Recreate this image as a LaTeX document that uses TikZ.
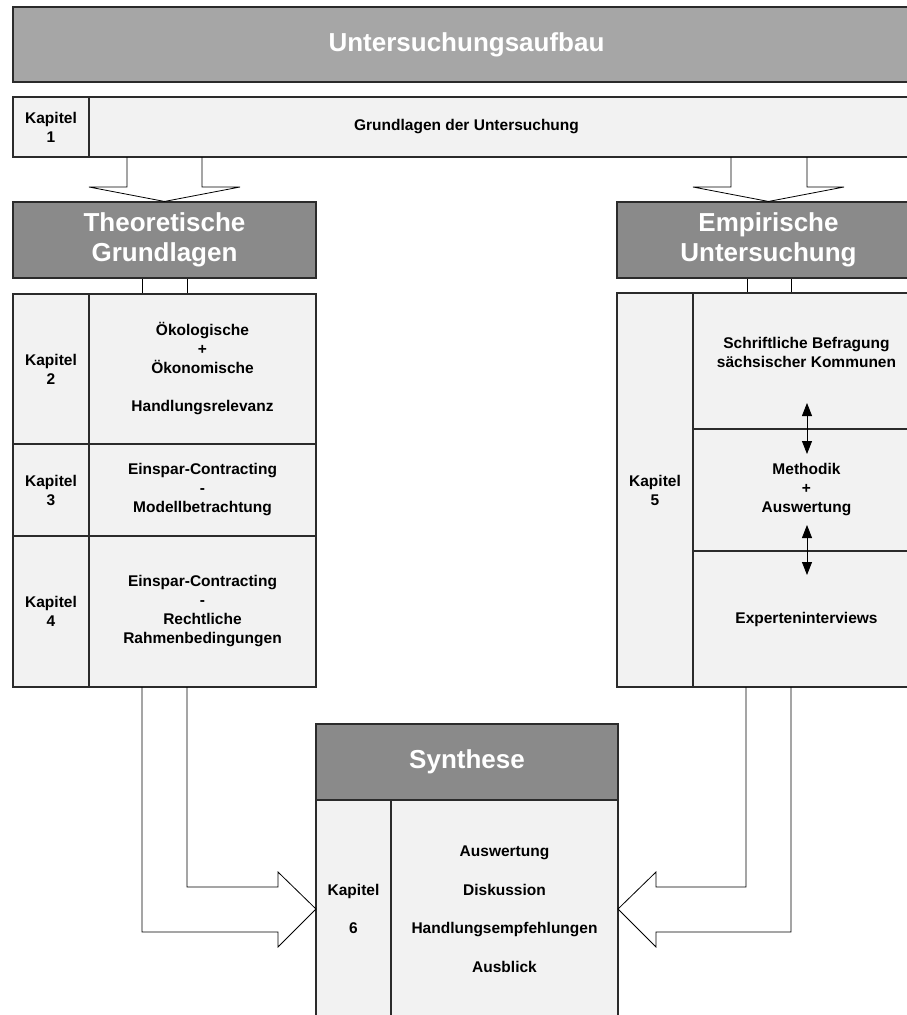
\documentclass[tikz,border=0pt]{standalone}
\usepackage{fontspec}
\setmainfont{Liberation Sans}
\usetikzlibrary{arrows.meta}

\definecolor{hdrlight}{HTML}{A6A6A6}
\definecolor{hdrdark}{HTML}{8A8A8A}
\definecolor{cellfill}{HTML}{F2F2F2}
\definecolor{edge}{HTML}{2B2B2B}

\tikzset{
  celltext/.style={inner sep=0pt, align=center, font=\fontsize{15.5}{19}\selectfont\bfseries},
  cell/.style={celltext, draw=edge, line width=1.1pt, fill=cellfill},
  bighead/.style={cell, fill=hdrlight, text=white, font=\fontsize{26}{30}\selectfont\bfseries},
  subhead/.style={bighead, fill=hdrdark},
  blockarrow/.style={draw=black, line width=0.8pt, line join=miter},
  link/.style={draw=black, line width=0.8pt},
  twoway/.style={line width=0.8pt, {Triangle[length=13pt,width=10pt]}-{Triangle[length=13pt,width=10pt]}},
}

\begin{document}
\begin{tikzpicture}[x=1pt, y=-1pt]
\useasboundingbox (0,0) rectangle (907,1015);
\clip (0,0) rectangle (907,1015);

% short links between the column headers and their chapter blocks
\draw[link] (142,278) -- (142,294) (187,278) -- (187,294);
\draw[link] (747,278) -- (747,293) (791,278) -- (791,293);

% title and chapter 1
\node[bighead, minimum width=907pt, minimum height=75pt] (title) at (466.5,44.5) {Untersuchungsaufbau};
\node[cell, minimum width=76pt, minimum height=60pt] (k1) at (51,127) {Kapitel\\1};
\node[cell, minimum width=831pt, minimum height=60pt] (g1) at (504.5,127) {};
\node[celltext] (g1text) at (466.5,127) {Grundlagen der Untersuchung};

% column headers
\node[subhead, minimum width=303pt, minimum height=76pt] (theo) at (164.5,240) {Theoretische\\Grundlagen};
\node[subhead, minimum width=303pt, minimum height=76pt] (emp) at (768.5,240) {Empirische\\Untersuchung};

% theoretical chapters
\node[cell, minimum width=76pt, minimum height=150pt] (k2) at (51,369) {Kapitel\\2};
\node[cell, minimum width=227pt, minimum height=150pt] (t2) at (202.5,369) {Ökologische\\+\\Ökonomische\\[19pt]Handlungsrelevanz};
\node[cell, minimum width=76pt, minimum height=92pt] (k3) at (51,490) {Kapitel\\3};
\node[cell, minimum width=227pt, minimum height=92pt] (t3) at (202.5,490) {Einspar-Contracting\\-\\Modellbetrachtung};
\node[cell, minimum width=76pt, minimum height=151pt] (k4) at (51,611.5) {Kapitel\\4};
\node[cell, minimum width=227pt, minimum height=151pt] (t4) at (202.5,611.5) {Einspar-Contracting\\-\\Rechtliche\\Rahmenbedingungen};

% empirical chapter
\node[cell, minimum width=76pt, minimum height=394pt] (k5) at (655,490) {Kapitel\\5};
\node[cell, minimum width=227pt, minimum height=136pt] (e1) at (806.5,361) {};
\node[celltext] (e1text) at (806.5,352) {Schriftliche Befragung\\sächsischer Kommunen};
\node[cell, minimum width=227pt, minimum height=122pt] (e2) at (806.5,490) {Methodik\\+\\Auswertung};
\node[cell, minimum width=227pt, minimum height=136pt] (e3) at (806.5,619) {Experteninterviews};

\coordinate (d1a) at (807,403);
\coordinate (d1b) at (807,454);
\coordinate (d2a) at (807,525);
\coordinate (d2b) at (807,575);
\draw[twoway] (d1a) -- (d1b);
\draw[twoway] (d2a) -- (d2b);

% synthesis
\node[subhead, minimum width=302pt, minimum height=76pt] (syn) at (467,762) {Synthese};
\node[cell, minimum width=75pt, minimum height=218pt] (k6) at (353.5,909) {Kapitel\\[19.5pt]6};
\node[cell, minimum width=227pt, minimum height=218pt] (s6) at (504.5,909) {Auswertung\\[19.5pt]Diskussion\\[19.5pt]Handlungsempfehlungen\\[19.5pt]Ausblick};

% block arrows from chapter 1 down to the two columns
\draw[blockarrow] (127,157) -- (127,187) -- (89,187) -- (theo.north) -- (240,187) -- (202,187) -- (202,157);
\draw[blockarrow] (731,157) -- (731,187) -- (693,187) -- (emp.north) -- (844,187) -- (807,187) -- (807,157);

% bent block arrows from both columns into the synthesis
\draw[blockarrow] (187,687) -- (187,887) -- (278,887) -- (278,872) -- (316,909) -- (278,947) -- (278,932) -- (142,932) -- (142,687);
\draw[blockarrow] (746,687) -- (746,887) -- (656,887) -- (656,872) -- (618,909) -- (656,947) -- (656,932) -- (791,932) -- (791,687);
\end{tikzpicture}
\end{document}
